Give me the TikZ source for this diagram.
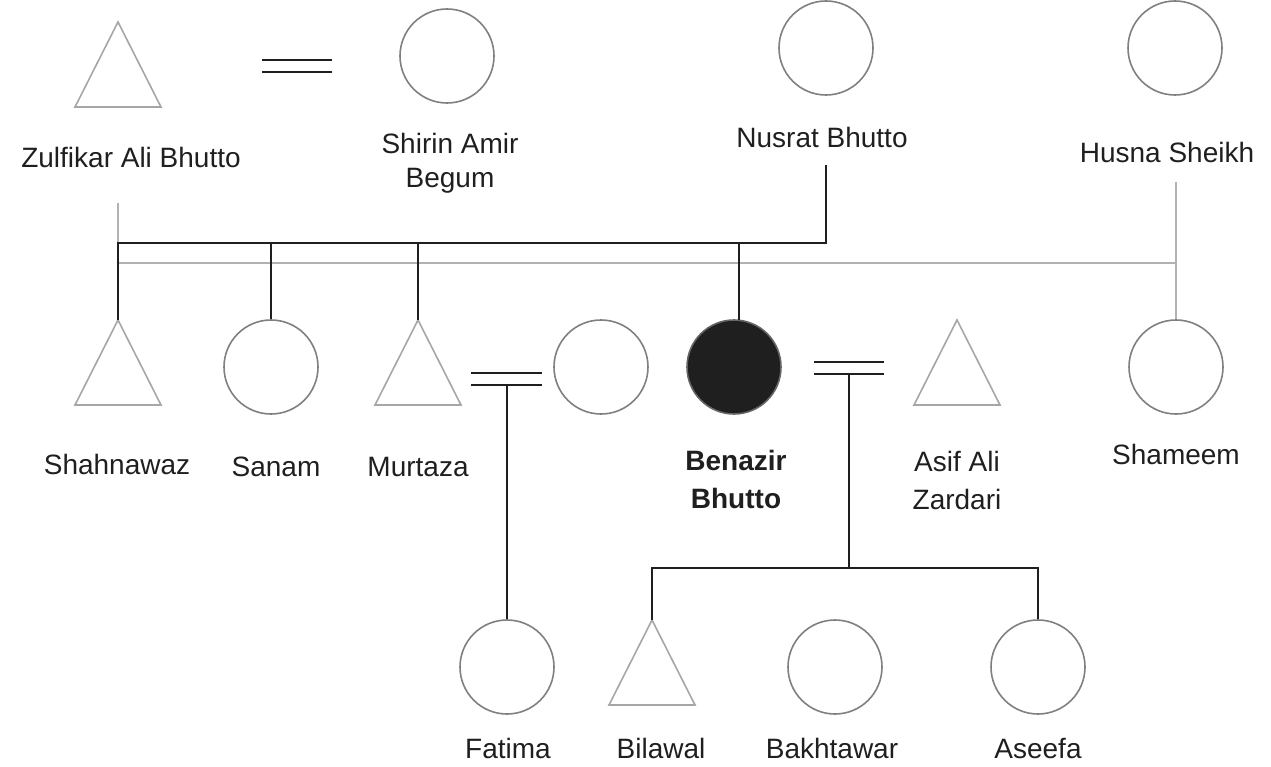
\documentclass[tikz,border=0pt]{standalone}
\usepackage{fontspec}
\setmainfont{Liberation Sans}
\begin{document}
\begin{tikzpicture}[x=1pt,y=-1pt,
 circ/.style={draw=black!50,line width=1.6pt,circle,minimum size=94pt,inner sep=0pt},
 tri/.style={draw=black!35,line width=1.6pt},
 bl/.style={draw=black!88,line width=1.8pt},
 gl/.style={draw=black!30,line width=1.8pt},
 lab/.style={font=\fontsize{28}{34}\selectfont,align=center,text=black!88}]
\useasboundingbox (0,0) rectangle (1271,767);
% triangles
\foreach \n/\x/\y in {zab/118/22,sha/118/320,mur/418/320,asi/957/320,bil/652/620}{
 \draw[tri] (\x,\y) -- (\x+43,\y+85) -- (\x-43,\y+85) -- cycle;
 \coordinate (\n) at (\x,\y);}
% circles
\node[circ] (shi) at (447,56) {};
\node[circ] (nus) at (826,48) {};
\node[circ] (hus) at (1175,48) {};
\node[circ] (san) at (271,367) {};
\node[circ] (mw) at (601,367) {};
\node[circ,fill=black!88,draw=black!60] (ben) at (734,367) {};
\node[circ] (sham) at (1176,367) {};
\node[circ] (fat) at (507,667) {};
\node[circ] (bak) at (835,667) {};
\node[circ] (ase) at (1038,667) {};
% marriages
\draw[bl] (262,60)--(332,60) (262,72)--(332,72);
\draw[bl] (471,373)--(542,373) (471,385)--(542,385);
\draw[bl] (814,362)--(884,362) (814,374)--(884,374);
% lines
\draw[gl] (118,203)--(118,243);
\draw[gl] (118,263)--(1176,263);
\draw[gl] (1176,182)--(sham.north);
\draw[bl] (826,165)--(826,243)--(118,243)--(sha);
\draw[bl] (271,243)--(san.north);
\draw[bl] (418,243)--(mur);
\draw[bl] (739,243)--(739,320);
\draw[bl] (507,385)--(fat.north);
\draw[bl] (849,374)--(849,568);
\draw[bl] (bil)--(652,568)--(1038,568)--(ase.north);
% labels
\node[lab] at (131,157) {Zulfikar Ali Bhutto};
\node[lab] at (450,163) {Shirin Amir\\Begum};
\node[lab] at (822,137) {Nusrat Bhutto};
\node[lab] at (1167,152) {Husna Sheikh};
\node[lab] at (117,464) {Shahnawaz};
\node[lab] at (276,467) {Sanam};
\node[lab] at (418,467) {Murtaza};
\node[lab,font=\fontsize{28}{38}\selectfont\bfseries] at (736,479) {Benazir\\Bhutto};
\node[lab,font=\fontsize{28}{38}\selectfont] at (957,480) {Asif Ali\\Zardari};
\node[lab] at (1176,454) {Shameem};
\node[lab] at (508,748) {Fatima};
\node[lab] at (661,748) {Bilawal};
\node[lab] at (832,748) {Bakhtawar};
\node[lab] at (1038,748) {Aseefa};
\end{tikzpicture}
\end{document}
